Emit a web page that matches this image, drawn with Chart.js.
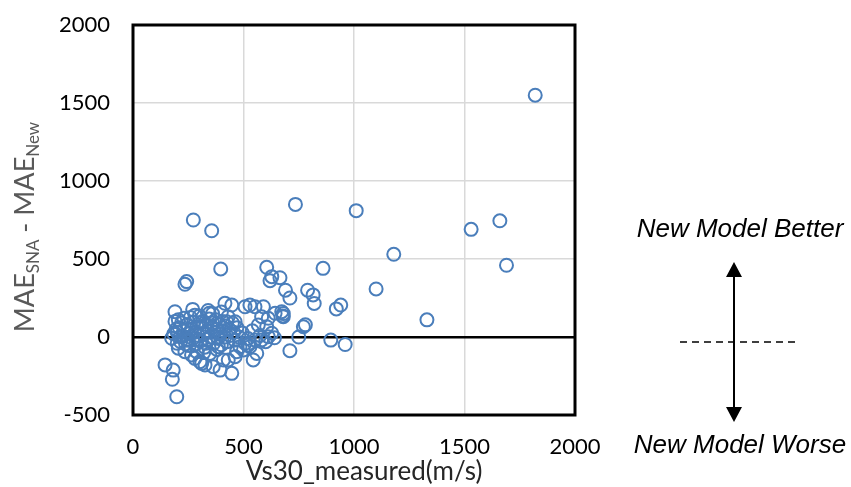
<!DOCTYPE html>
<html>
<head>
<meta charset="utf-8">
<script src="https://cdn.jsdelivr.net/npm/chart.js@4.4.1/dist/chart.umd.min.js"></script>
<style>
  html, body { margin: 0; padding: 0; background: #ffffff; }
  #wrap { width: 851px; height: 487px; }
</style>
</head>
<body>
<div id="wrap"><canvas id="c" width="851" height="487"></canvas></div>
<script>
// ---- data ----
const vs30Measured = [
  1820,1660,1530,1690,1010,735,1180,1100,1330,860,790,815,820,710,690,680,678,665,780,750,710,895,960,920,940,
  273,356,243,235,397,190,270,345,416,605,628,620,
  447,507,529,552,590,582,612,643,673,680,771,424,462,567,605,628,
  560,544,447,431,462,612,582,507,529,
  145,182,178,198,205,235,280,311,326,409,363,394,288,348,386,175,213,243,
  484,500,522,552,469,265,303,
  200,205,210,215,220,225,230,238,245,250,255,260,265,270,275,280,285,290,295,300,
  305,310,315,320,325,330,335,340,345,350,355,360,365,370,375,380,385,390,395,400,
  405,410,415,420,425,430,435,440,450,455,460,470,480,495,520,540,575,600,640,190,
  195,200,185,330,360,300,280,250,230,400,380,340,320,290
];
const maeDifference = [
  1550,745,690,460,810,850,530,308,110,440,300,270,215,250,300,150,135,380,78,0,-88,-20,-48,180,205,
  750,681,355,338,436,162,177,152,216,447,387,361,
  205,194,205,194,194,130,120,152,162,130,66,98,98,77,66,24,
  -105,-147,-233,-147,-126,2,-19,-40,-62,
  -179,-212,-271,-383,-72,-94,-137,-169,-179,-147,-190,-212,-94,-105,-62,-8,2,-19,
  -62,-83,-51,-19,-94,-115,-158,
  30,110,60,-30,90,5,45,-45,80,20,-55,125,50,-10,95,30,-45,65,10,135,
  -25,60,100,20,-65,80,40,-15,115,0,60,90,-40,30,110,50,-10,80,20,-50,
  100,40,0,70,-30,130,50,10,90,30,-20,60,0,25,-10,40,10,-30,-5,100,
  50,-40,20,-40,150,90,140,-20,120,160,-80,170,-100,-20
];
const xTickValues = [0, 500, 1000, 1500, 2000];
const yTickValues = [-500, 0, 500, 1000, 1500, 2000];
const xAxisTitle = 'Vs30_measured(m/s)';
const yAxisTitleParts = [['MAE', false], ['SNA', true], [' - MAE', false], ['New', true]];
const labelBetter = 'New Model Better';
const labelWorse = 'New Model Worse';

const points = vs30Measured.map((x, i) => ({ x: x, y: maeDifference[i] }));

const overlay = {
  id: 'overlay',
  afterDraw(chart) {
    const ctx = chart.ctx;
    const a = chart.chartArea;
    ctx.save();
    // plot frame
    ctx.strokeStyle = '#000';
    ctx.lineWidth = 3;
    ctx.strokeRect(a.left, a.top, a.right - a.left, a.bottom - a.top);

    // y-axis title with subscripts
    ctx.save();
    ctx.translate(24, 227);
    ctx.rotate(-Math.PI / 2);
    ctx.fillStyle = '#595959';
    ctx.textBaseline = 'alphabetic';
    ctx.textAlign = 'left';
    const big = '27px Lato', small = '17px Lato';
    let total = 0;
    yAxisTitleParts.forEach(p => { ctx.font = p[1] ? small : big; total += ctx.measureText(p[0]).width; });
    let xx = -total / 2;
    yAxisTitleParts.forEach(p => {
      ctx.font = p[1] ? small : big;
      ctx.fillText(p[0], xx, p[1] ? 15 : 10);
      xx += ctx.measureText(p[0]).width;
    });
    ctx.restore();

    // x-axis title
    ctx.fillStyle = '#262626';
    ctx.font = '26px Lato';
    ctx.textAlign = 'center';
    ctx.textBaseline = 'middle';
    ctx.fillText(xAxisTitle, 364, 472);

    // annotations
    ctx.fillStyle = '#000';
    ctx.font = 'italic 26px "Liberation Sans"';
    ctx.fillText(labelBetter, 740, 230);
    ctx.fillText(labelWorse, 740, 446);

    // arrow
    ctx.strokeStyle = '#000';
    ctx.lineWidth = 2;
    ctx.beginPath();
    ctx.moveTo(734, 274);
    ctx.lineTo(734, 410);
    ctx.stroke();
    ctx.beginPath();
    ctx.moveTo(734, 262); ctx.lineTo(742, 277); ctx.lineTo(726, 277); ctx.closePath();
    ctx.fill();
    ctx.beginPath();
    ctx.moveTo(734, 422); ctx.lineTo(742, 407); ctx.lineTo(726, 407); ctx.closePath();
    ctx.fill();
    // dashed reference
    ctx.lineWidth = 1.5;
    ctx.setLineDash([7, 5]);
    ctx.beginPath();
    ctx.moveTo(680, 342);
    ctx.lineTo(800, 342);
    ctx.stroke();
    ctx.restore();
  }
};

new Chart(document.getElementById('c'), {
  type: 'scatter',
  data: {
    datasets: [{
      data: points,
      pointRadius: 6.5,
      pointHoverRadius: 6.5,
      borderColor: '#4a7ebb',
      backgroundColor: 'rgba(0,0,0,0)',
      borderWidth: 2,
      pointBorderWidth: 2
    }]
  },
  options: {
    responsive: false,
    animation: false,
    devicePixelRatio: 1,
    layout: { padding: { left: 0, top: 25, right: 276, bottom: 0 } },
    plugins: { legend: { display: false }, tooltip: { enabled: false } },
    scales: {
      x: {
        type: 'linear',
        min: 0, max: 2000,
        afterBuildTicks(scale) { scale.ticks = xTickValues.map(v => ({ value: v })); },
        afterFit(scale) { scale.height = 72; scale.paddingLeft = 0; scale.paddingRight = 0; },
        ticks: { font: { family: 'Lato', size: 22 }, color: '#000', padding: 19, maxRotation: 0,
                 callback: v => String(v) },
        grid: { color: '#d9d9d9', lineWidth: 1.5, drawTicks: false },
        border: { display: false }
      },
      y: {
        type: 'linear',
        min: -500, max: 2000,
        afterBuildTicks(scale) { scale.ticks = yTickValues.map(v => ({ value: v })); },
        afterFit(scale) { scale.width = 133; scale.paddingTop = 0; scale.paddingBottom = 0; },
        ticks: { font: { family: 'Lato', size: 22 }, color: '#000', padding: 23,
                 callback: v => String(v) },
        grid: {
          color: c => (c.tick && c.tick.value === 0) ? '#000' : '#d9d9d9',
          lineWidth: c => (c.tick && c.tick.value === 0) ? 2.5 : 1.5,
          drawTicks: false
        },
        border: { display: false }
      }
    }
  },
  plugins: [overlay]
});
</script>
</body>
</html>
